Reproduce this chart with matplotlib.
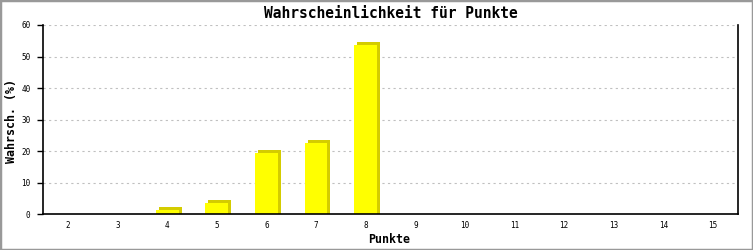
import matplotlib
matplotlib.use("Agg")
import matplotlib.pyplot as plt
import matplotlib.transforms as mtransforms
from matplotlib.patches import Rectangle

# data
punkte = ["2", "3", "4", "5", "6", "7", "8", "9", "10", "11", "12", "13", "14", "15"]
wahrsch = [0, 0, 1.4, 3.7, 19.5, 22.7, 53.7, 0, 0, 0, 0, 0, 0, 0]
y_ticks = [0, 10, 20, 30, 40, 50, 60]

W, H = 753, 250
fig = plt.figure(figsize=(W / 100, H / 100), dpi=100)
fig.patch.set_facecolor("white")
fig.patches.append(Rectangle((0, 0), 1, 1, transform=fig.transFigure, fill=False,
                             edgecolor="#999999", linewidth=2.5))

ax = fig.add_axes([43 / W, (H - 214.3) / H, (738 - 43) / W, (214.3 - 25) / H])
x = list(range(len(punkte)))

# 3D side/top face: same bars shifted 3px right (and up)
shift = mtransforms.ScaledTranslation(3 / 100, 3 / 100, fig.dpi_scale_trans)
side = mtransforms.ScaledTranslation(3 / 100, 0, fig.dpi_scale_trans)
ax.bar(x, wahrsch, width=0.46, color="#d4cc00", linewidth=0,
       transform=ax.transData + shift, zorder=2)
ax.bar(x, wahrsch, width=0.46, color="#d4cc00", linewidth=0,
       transform=ax.transData + side, zorder=2)
ax.bar(x, wahrsch, width=0.46, color="#ffff00", linewidth=0, zorder=3)

ax.set_xlim(-0.5, len(punkte) - 0.5)
ax.set_ylim(0, 60)
ax.set_xticks(x)
ax.set_xticklabels(punkte)
ax.set_yticks(y_ticks)

mono = "DejaVu Sans Mono"
for lab in ax.get_xticklabels() + ax.get_yticklabels():
    lab.set_family(mono)
    lab.set_fontsize(5.5)
ax.tick_params(axis="x", length=0, pad=5)
ax.tick_params(axis="y", direction="out", length=4, width=1, pad=5)

ax.yaxis.grid(True, color="#c0c0c0", linestyle=(0, (2, 3)), linewidth=0.8)
ax.set_axisbelow(True)
ax.spines["top"].set_visible(False)
for s in ["left", "bottom", "right"]:
    ax.spines[s].set_linewidth(1.2)
    ax.spines[s].set_color("black")
    ax.spines[s].set_zorder(4)

fig.text(0.5 * (43 + 738) / W, 1 - 13.5 / H, "Wahrscheinlichkeit für Punkte",
         ha="center", va="center", family=mono, fontweight="bold", fontsize=10.5)
fig.text(389 / W, 1 - 239.5 / H, "Punkte", ha="center", va="center",
         family=mono, fontweight="bold", fontsize=8.4)
fig.text(12 / W, 1 - 121 / H, "Wahrsch. (%)", ha="center", va="center", rotation=90,
         family=mono, fontweight="bold", fontsize=8.4)

fig.savefig("out.png", dpi=100)
